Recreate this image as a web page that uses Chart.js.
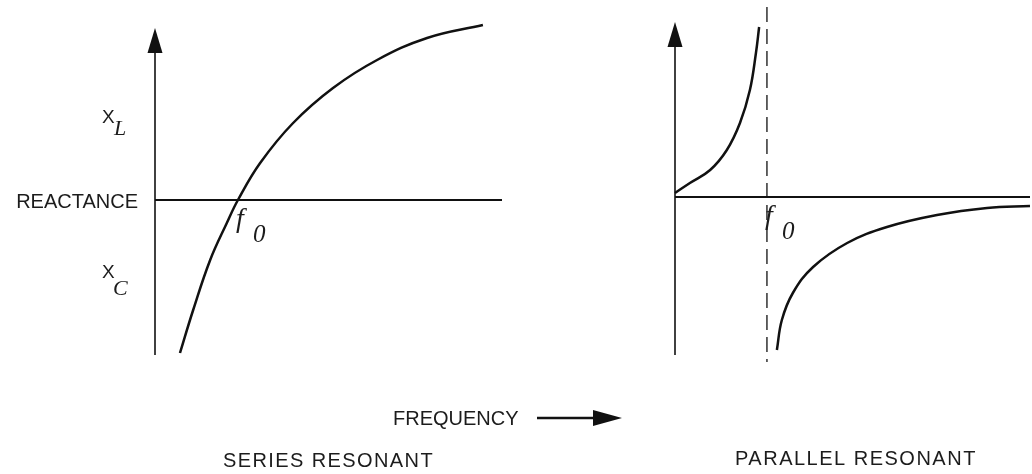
<!DOCTYPE html>
<html>
<head>
<meta charset="utf-8">
<title>Series and parallel resonance — reactance vs. frequency</title>
<script src="https://cdn.jsdelivr.net/npm/chart.js@4"></script>
<style>
  html, body { margin: 0; background: #fff; }
  #wrap { position: relative; width: 1032px; height: 474px; }
  .pane { position: absolute; top: 0; height: 474px; }
  #series-pane { left: 0; width: 640px; }
  #parallel-pane { left: 640px; width: 392px; }
</style>
</head>
<body>
<div id="wrap">
  <div class="pane" id="series-pane"><canvas id="chart-series"></canvas></div>
  <div class="pane" id="parallel-pane"><canvas id="chart-parallel"></canvas></div>
</div>
<script>
// Reactance against frequency for a series LC and a parallel LC circuit.
// Frequency runs 0..10 on both panels, reactance in arbitrary units (0 = axis).
const FREQ_RANGE = [0, 10];

// Series resonant: X = XL - XC, crossing zero at f0
const SERIES_FREQ = [0.72, 1.10, 1.59, 2.07, 2.39, 3.03, 3.98, 5.13, 6.40, 7.84, 9.45];
const SERIES_REACT = [-1.53, -1.10, -0.60, -0.23, 0, 0.37, 0.77, 1.12, 1.40, 1.62, 1.75];
const SERIES_F0 = 2.39;
const SERIES_REACT_RANGE = [-1.55, 1.72];

// Parallel resonant: inductive branch below f0, capacitive branch above it
const PAR_BELOW_FREQ = [0, 0.42, 0.99, 1.46, 1.83, 2.11, 2.28, 2.37];
const PAR_BELOW_REACT = [0.04, 0.14, 0.27, 0.47, 0.74, 1.07, 1.44, 1.70];
const PAR_ABOVE_FREQ = [2.87, 3.01, 3.32, 3.89, 4.85, 5.97, 7.38, 8.79, 10.0];
const PAR_ABOVE_REACT = [-1.53, -1.23, -0.96, -0.70, -0.46, -0.30, -0.18, -0.11, -0.09];
const PARALLEL_F0 = 2.59;
const F0_MARKER_REACT = [1.90, -1.65];
const PARALLEL_REACT_RANGE = [-1.58, 1.75];

const INK = "#111";
const TEXT_INK = "#1c1c1c";
const SANS = '"Liberation Sans", Arial, sans-serif';
const SERIF_ITALIC = 'italic 22px "Liberation Serif", "Times New Roman", serif';
const F_FONT = 'italic 28px "Liberation Serif", "Times New Roman", serif';
const SUB0_FONT = 'italic 25px "Liberation Serif", "Times New Roman", serif';

const zip = (xs, ys) => xs.map((x, i) => ({ x, y: ys[i] }));

function curve(data) {
  return {
    data, borderColor: INK, borderWidth: 2.5, pointRadius: 0,
    tension: 0.4, fill: false, clip: false,
  };
}

function text(ctx, str, x, y, font, spacing) {
  ctx.font = font;
  ctx.letterSpacing = (spacing || 0) + "px";
  ctx.fillText(str, x, y);
  ctx.letterSpacing = "0px";
}

function arrowHead(ctx, tipX, tipY, dirX, dirY, len, half) {
  const bx = tipX - dirX * len, by = tipY - dirY * len;
  ctx.beginPath();
  ctx.moveTo(tipX, tipY);
  ctx.lineTo(bx - dirY * half, by + dirX * half);
  ctx.lineTo(bx + dirY * half, by - dirX * half);
  ctx.closePath();
  ctx.fill();
}

// Draws the reactance / frequency axes with arrowheads, plus the lettering.
const diagramPlugin = {
  id: "diagram",
  afterDatasetsDraw(chart, args, opts) {
    const { ctx, chartArea, scales } = chart;
    const { left, right, top, bottom } = chartArea;
    const y0 = scales.y.getPixelForValue(0);
    const xf = scales.x.getPixelForValue(opts.f0);
    ctx.save();
    ctx.strokeStyle = INK;
    ctx.fillStyle = INK;

    // vertical (reactance) axis with arrow at the top
    ctx.lineWidth = 1.6;
    ctx.beginPath();
    ctx.moveTo(left, bottom);
    ctx.lineTo(left, top + 10);
    ctx.stroke();
    arrowHead(ctx, left, top, 0, -1, 25, 7.5);

    // horizontal zero-reactance line
    ctx.lineWidth = 2;
    ctx.beginPath();
    ctx.moveTo(left, y0);
    ctx.lineTo(right, y0);
    ctx.stroke();

    ctx.fillStyle = TEXT_INK;
    ctx.textBaseline = "alphabetic";
    ctx.textAlign = "left";
    text(ctx, "f", xf - 2, y0 + 27, F_FONT);
    text(ctx, "0", xf + 15, y0 + 42, SUB0_FONT);

    if (opts.side === "series") {
      ctx.textAlign = "right";
      text(ctx, "REACTANCE", left - 17, y0 + 8, "20px " + SANS);
      ctx.textAlign = "left";
      text(ctx, "X", left - 53, y0 - 77, "19px " + SANS);
      text(ctx, "L", left - 41, y0 - 65, SERIF_ITALIC);
      text(ctx, "X", left - 53, y0 + 78, "19px " + SANS);
      text(ctx, "C", left - 42, y0 + 95, SERIF_ITALIC);

      text(ctx, "FREQUENCY", 393, 425, "20px " + SANS);
      ctx.strokeStyle = INK;
      ctx.fillStyle = INK;
      ctx.lineWidth = 2.4;
      ctx.beginPath();
      ctx.moveTo(537, 418);
      ctx.lineTo(600, 418);
      ctx.stroke();
      arrowHead(ctx, 622, 418, 1, 0, 29, 8);

      ctx.fillStyle = TEXT_INK;
      text(ctx, "SERIES RESONANT", 223, 467, "20px " + SANS, 1.4);
    } else {
      text(ctx, "PARALLEL RESONANT", 95, 465, "20px " + SANS, 1.5);
    }
    ctx.restore();
  },
};

function baseOptions(reactRange, padding, pluginOpts) {
  return {
    responsive: true,
    maintainAspectRatio: false,
    animation: false,
    events: [],
    layout: { padding },
    plugins: { legend: { display: false }, tooltip: { enabled: false }, diagram: pluginOpts },
    scales: {
      x: { type: "linear", min: FREQ_RANGE[0], max: FREQ_RANGE[1], display: false },
      y: { type: "linear", min: reactRange[0], max: reactRange[1], display: false },
    },
  };
}

new Chart(document.getElementById("chart-series"), {
  type: "line",
  data: { datasets: [curve(zip(SERIES_FREQ, SERIES_REACT))] },
  options: baseOptions(SERIES_REACT_RANGE, { left: 155, right: 138, top: 28, bottom: 119 },
    { side: "series", f0: SERIES_F0 }),
  plugins: [diagramPlugin],
});

new Chart(document.getElementById("chart-parallel"), {
  type: "line",
  data: {
    datasets: [
      curve(zip(PAR_BELOW_FREQ, PAR_BELOW_REACT)),
      curve(zip(PAR_ABOVE_FREQ, PAR_ABOVE_REACT)),
      {
        data: F0_MARKER_REACT.map((y) => ({ x: PARALLEL_F0, y })),
        borderColor: INK, borderWidth: 1.3, borderDash: [15, 7], pointRadius: 0, clip: false,
      },
    ],
  },
  options: baseOptions(PARALLEL_REACT_RANGE, { left: 35, right: 2, top: 22, bottom: 119 },
    { side: "parallel", f0: PARALLEL_F0 }),
  plugins: [diagramPlugin],
});
</script>
</body>
</html>
